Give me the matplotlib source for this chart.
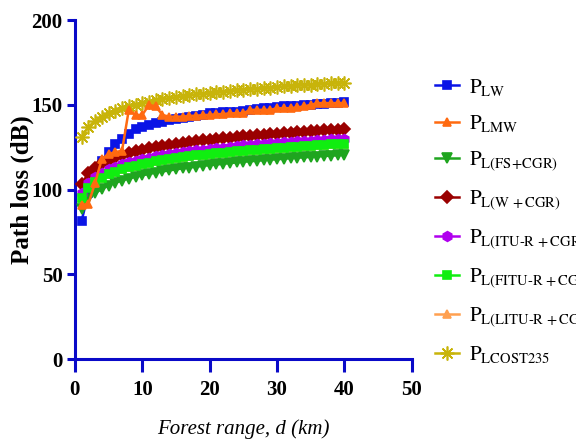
import matplotlib
matplotlib.use('Agg')
import matplotlib.pyplot as plt
import numpy as np

plt.rcParams['font.family'] = ['Liberation Serif', 'DejaVu Serif']
plt.rcParams['mathtext.fontset'] = 'stix'

# forest range (km)
d = list(range(1, 41))

# path loss values (dB)
p_lw = [81.6, 97.7, 109.5, 117, 122, 127, 130, 133, 135.5, 137,
        138, 139, 140, 141, 141.5, 142, 143, 143.5, 144, 145,
        145, 145.5, 146, 146, 146.5, 147, 147.5, 148, 148, 148.5,
        149, 149, 149.5, 150, 150, 150.5, 150.5, 151, 151, 151.5]
p_lmw = [91, 91.5, 104, 118, 121, 122, 123, 147, 144, 144,
         150, 149, 144, 143, 143, 143, 143.5, 143.5, 144, 144,
         144.5, 144.5, 145, 145, 145, 147, 147, 147, 147, 148,
         148, 148, 148.5, 149, 150, 151, 151, 151, 151, 151]
p_fs_cgr = [88.4, 94.4, 97.9, 100.4, 102.4, 104.0, 105.3, 106.5, 107.5, 108.4,
            109.2, 110.0, 110.7, 111.3, 111.9, 112.5, 113.0, 113.5, 114.0, 114.4,
            114.8, 115.2, 115.6, 116.0, 116.4, 116.7, 117.0, 117.3, 117.6, 117.9,
            118.2, 118.5, 118.8, 119.0, 119.3, 119.5, 119.8, 120.0, 120.2, 120.4]
p_w_cgr = [103.5, 109.5, 113, 115.5, 117.5, 119.1, 120.4, 121.6, 122.6, 123.5,
           124.3, 125.1, 125.8, 126.4, 127, 127.6, 128.1, 128.6, 129.1, 129.5,
           129.9, 130.3, 130.7, 131.1, 131.5, 131.8, 132.1, 132.4, 132.7, 133,
           133.3, 133.6, 133.9, 134.1, 134.4, 134.6, 134.9, 135.1, 135.3, 135.5]
p_itu_cgr = [98, 104, 107.5, 110, 112, 113.6, 114.9, 116.1, 117.1, 118,
             118.8, 119.6, 120.3, 120.9, 121.5, 122.1, 122.6, 123.1, 123.6, 124,
             124.4, 124.8, 125.2, 125.6, 126, 126.3, 126.6, 126.9, 127.2, 127.5,
             127.8, 128.1, 128.4, 128.6, 128.9, 129.1, 129.4, 129.6, 129.8, 130.0]
p_fitu_cgr = [95.0, 101.0, 104.5, 107.0, 109.0, 110.6, 111.9, 113.1, 114.1, 115.0,
              115.8, 116.6, 117.3, 117.9, 118.5, 119.1, 119.6, 120.1, 120.6, 121.0,
              121.4, 121.8, 122.2, 122.6, 123.0, 123.3, 123.6, 123.9, 124.2, 124.5,
              124.8, 125.1, 125.4, 125.6, 125.9, 126.1, 126.4, 126.6, 126.8, 127.0]
p_litu_cgr = [95.0, 101.0, 104.5, 107.0, 109.0, 110.6, 111.9, 113.1, 114.1, 115.0,
              115.8, 116.6, 117.3, 117.9, 118.5, 119.1, 119.6, 120.1, 120.6, 121.0,
              121.4, 121.8, 122.2, 122.6, 123.0, 123.3, 123.6, 123.9, 124.2, 124.5,
              124.8, 125.1, 125.4, 125.6, 125.9, 126.1, 126.4, 126.6, 126.8, 127.0]
p_cost235 = [131, 137, 140.5, 143, 145, 146.6, 147.9, 149.1, 150.1, 151,
             151.8, 152.6, 153.3, 153.9, 154.5, 155.1, 155.6, 156.1, 156.6, 157,
             157.4, 157.8, 158.2, 158.6, 159, 159.3, 159.6, 159.9, 160.2, 160.5,
             160.8, 161.1, 161.4, 161.6, 161.9, 162.1, 162.4, 162.6, 162.8, 163.0]

fig = plt.figure(figsize=(5.76, 4.45), dpi=100)
ax = fig.add_axes([0.130, 0.193, 0.585, 0.762])

# series: data, label, colour, marker, size, zorder
series = [
    (p_lw, r'$\mathrm{P_{LW}}$', '#0a14e6', 's', 6, 3),
    (p_lmw, r'$\mathrm{P_{LMW}}$', '#ff6a10', '^', 6, 4),
    (p_fs_cgr, r'$\mathrm{P_{L(FS\!+\!CGR)}}$', '#1fa51f', 'v', 7, 3),
    (p_w_cgr, r'$\mathrm{P_{L(W\,+CGR)}}$', '#9a0000', 'D', 6, 3),
    (p_itu_cgr, r'$\mathrm{P_{L(ITU\text{-}R\,+CGR)}}$', '#b000ee', 'h', 7, 3),
    (p_fitu_cgr, r'$\mathrm{P_{L(FITU\text{-}R\,+CGR)}}$', '#10ee10', 's', 6, 3),
    (p_litu_cgr, r'$\mathrm{P_{L(LITU\text{-}R\,+CGR)}}$', '#ffa050', '^', 6, 2),
    (p_cost235, r'$\mathrm{P_{LCOST235}}$', '#c8b40a', (8, 2, 0), 10, 3),
]

for y, lab, col, mk, ms, z in series:
    ax.plot(d, y, color=col, marker=mk, markersize=ms, linewidth=1.8,
            markeredgewidth=1.2, label=lab, zorder=z)

ax.set_xlim(0, 50)
ax.set_ylim(0, 200)
ax.set_xticks([0, 10, 20, 30, 40, 50])
ax.set_yticks([0, 50, 100, 150, 200])

for s in ['top', 'right']:
    ax.spines[s].set_visible(False)
for s in ['left', 'bottom']:
    ax.spines[s].set_color('#0a0ac8')
    ax.spines[s].set_linewidth(2.2)
ax.tick_params(axis='both', colors='#0a0ac8', direction='out', width=2.2,
               labelcolor='black', labelsize=15)
ax.tick_params(axis='y', length=6, pad=3)
ax.tick_params(axis='x', length=9, pad=6)
for t in ax.get_xticklabels() + ax.get_yticklabels():
    t.set_fontweight('bold')

ax.set_xlabel('Forest range, d (km)', fontsize=15, fontstyle='italic', labelpad=14)
ax.set_ylabel('Path loss (dB)', fontsize=18, fontweight='bold', labelpad=-2)

fig.legend(loc='upper left', bbox_to_anchor=(0.755, 0.828), frameon=False,
           fontsize=15, handlelength=1.15, labelspacing=0.74, handletextpad=0.5,
           borderpad=0, borderaxespad=0)

plt.savefig('out.png', dpi=100)
